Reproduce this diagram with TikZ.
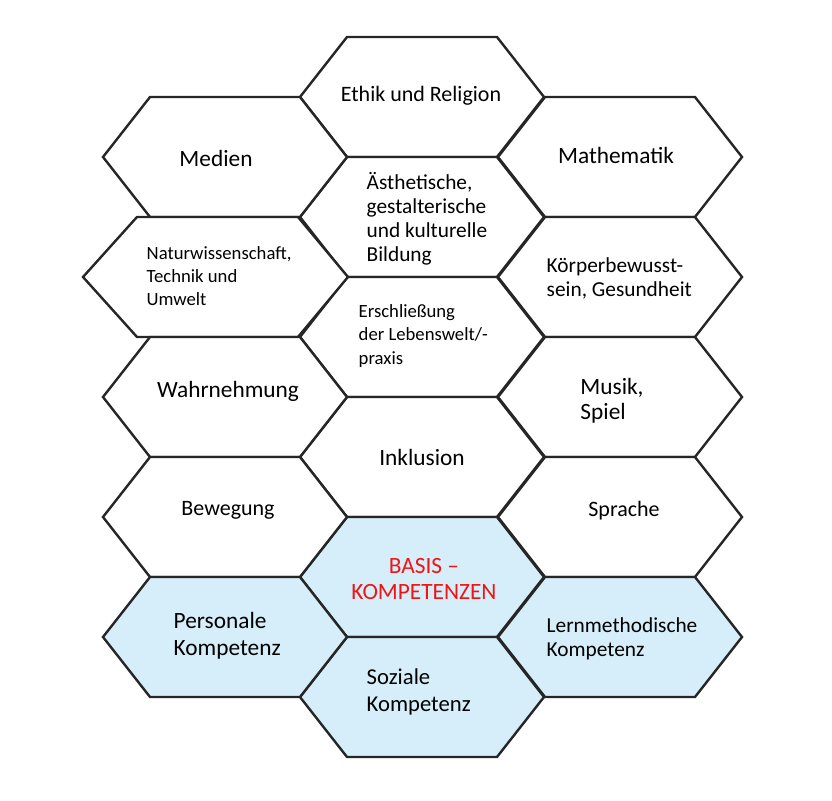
\documentclass[tikz,border=0pt]{standalone}
\usepackage{fontspec}
\setmainfont{Carlito}
\definecolor{hex_blue}{RGB}{214,238,250}
\definecolor{basis_red}{RGB}{240,20,20}
\newcommand\hexa[3][white]{\draw[hexline,fill=#1] (#2,#3) ++(-122,0) -- ++(47,-60) -- ++(150,0) -- ++(47,60) -- ++(-47,60) -- ++(-150,0) -- cycle;}
\begin{document}
\begin{tikzpicture}[x=0.75pt,y=-0.75pt]
    \tikzset{hexline/.style={line width=1.8pt,line join=miter,draw=black!85}}
    \tikzstyle{big}=[font=\fontsize{16.5}{19}\selectfont,align=center]
    \tikzstyle{small}=[font=\fontsize{14}{17.5}\selectfont,align=left]
    \tikzstyle{mid}=[font=\fontsize{16}{18}\selectfont,align=left]
    \useasboundingbox (0,0) rectangle (832,800);

    % middle column
    \hexa{422}{97}
    \hexa{422}{217}
    \hexa{422}{337}
    \hexa{422}{457}
    \hexa[hex_blue]{422}{577}
    \hexa[hex_blue]{422}{697}
    % left column
    \hexa{225}{157}
    \draw[hexline,fill=white] (83,277) -- (137,217) -- (298,217) -- (348,277) -- (298,337) -- (137,337) -- cycle;
    \hexa{225}{397}
    \hexa{225}{517}
    \hexa[hex_blue]{225}{637}
    % right column
    \hexa{620}{157}
    \hexa{620}{277}
    \hexa{620}{397}
    \hexa{620}{517}
    \hexa[hex_blue]{620}{637}

    \node[big] (ethik) at (421,96) {Ethik und Religion};
    \node[big,font=\fontsize{17.5}{19}\selectfont] (medien) at (216,158) {Medien};
    \node[big,font=\fontsize{17.5}{19}\selectfont] (mathe) at (616,155) {Mathematik};
    \node[mid,anchor=west] (aesth) at (362,219) {Ästhetische,\\gestalterische\\und kulturelle\\Bildung};
    \node[small,anchor=west] (natur) at (142,276) {Naturwissenschaft,\\Technik und\\Umwelt};
    \node[mid,anchor=west] (koerper) at (542,278) {Körperbewusst-\\sein, Gesundheit};
    \node[small,anchor=west] (erschl) at (354,336) {Erschließung\\der Lebenswelt/-\\praxis};
    \node[big,font=\fontsize{17.5}{19}\selectfont] (wahrn) at (228,391) {Wahrnehmung};
    \node[big,font=\fontsize{17.5}{19}\selectfont,align=left] (musik) at (612,401) {Musik,\\Spiel};
    \node[big,font=\fontsize{17.5}{19}\selectfont] (inkl) at (422,457) {Inklusion};
    \node[big] (beweg) at (228,510) {Bewegung};
    \node[big] (sprache) at (624,511) {Sprache};
    \node[big,font=\fontsize{17.5}{19.5}\selectfont,text=basis_red] (basis) at (424,579) {BASIS --\\KOMPETENZEN};
    \node[big,font=\fontsize{17.5}{20.5}\selectfont,align=left,anchor=west] (personal) at (169,636) {Personale\\Kompetenz};
    \node[mid,anchor=west] (lernm) at (542,639) {Lernmethodische\\Kompetenz};
    \node[big,font=\fontsize{17}{20.5}\selectfont,align=left,anchor=west] (sozial) at (362,692) {Soziale\\Kompetenz};
\end{tikzpicture}
\end{document}
